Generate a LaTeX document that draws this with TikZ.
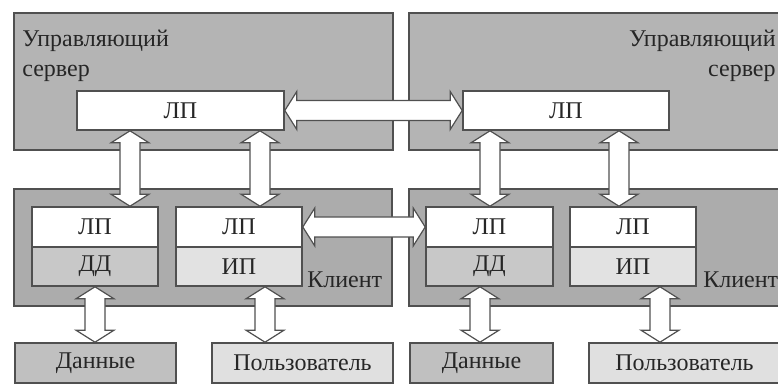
\documentclass[tikz,border=0pt]{standalone}
\usepackage{fontspec}
\setmainfont{Liberation Serif}
\usetikzlibrary{calc}

\definecolor{panelgray}{RGB}{180,180,180}
\definecolor{clientgray}{RGB}{172,172,172}
\definecolor{ddgray}{RGB}{200,200,200}
\definecolor{ipgray}{RGB}{226,226,226}
\definecolor{datagray}{RGB}{192,192,192}
\definecolor{usergray}{RGB}{224,224,224}
\definecolor{edgegray}{RGB}{80,80,80}

\begin{document}
\begin{tikzpicture}[x=0.5pt, y=-0.5pt,
		every node/.style={font=\fontsize{12}{15}\selectfont, text=black!85},
		panel/.style={shape=rectangle, draw=edgegray, line width=0.8pt, inner sep=0pt},
		dblarrow/.style={draw=edgegray, fill=white, line width=0.6pt, to path={
				let \p1=(\tikztostart), \p2=(\tikztotarget),
				\n1={atan2(\y2-\y1,\x2-\x1)}, \n2={veclen(\x2-\x1,\y2-\y1)} in
				{[shift={(\p1)}, rotate=\n1]
					(0pt,0pt) -- (6pt,9.5pt) -- (6pt,5pt) -- (\n2-6pt,5pt) -- (\n2-6pt,9.5pt) -- (\n2,0pt)
					-- (\n2-6pt,-9.5pt) -- (\n2-6pt,-5pt) -- (6pt,-5pt) -- (6pt,-9.5pt) -- cycle}}}]
				\useasboundingbox (0,0) rectangle (778,385);
				% Panels:
				\node[panel, fill=panelgray, minimum width=189.5pt, minimum height=68.5pt] (srvL) at (203.5, 81.5){};
				\node[panel, fill=panelgray, minimum width=195.5pt, minimum height=68.5pt] (srvR) at (604.5, 81.5){};
				\node[panel, fill=clientgray, minimum width=189pt, minimum height=58.5pt] (cliL) at (203, 247.5){};
				\node[panel, fill=clientgray, minimum width=195.5pt, minimum height=58.5pt] (cliR) at (604.5, 247.5){};
				\node[anchor=north west, align=left, inner sep=0pt] (srvtxtL) at (22, 30){Управляющий\\сервер};
				\node[anchor=north east, align=right, inner sep=0pt] (srvtxtR) at (776, 30){Управляющий\\сервер};
				\node[anchor=base west, inner sep=0pt] (clitxtL) at (307, 288){Клиент};
				\node[anchor=base west, inner sep=0pt] (clitxtR) at (703, 288){Клиент};
				% Boxes:
				\node[panel, fill=white, minimum width=103.5pt, minimum height=19.5pt] (srvlpL) at (180.5, 110.5){ЛП};
				\node[panel, fill=white, minimum width=103pt, minimum height=19.5pt] (srvlpR) at (566, 110.5){ЛП};
				\node[panel, fill=white, minimum width=63pt, minimum height=20pt] (lpA) at (95, 227){ЛП};
				\node[panel, fill=ddgray, minimum width=63pt, minimum height=19.5pt] (ddA) at (95, 266.5){ДД};
				\node[panel, fill=white, minimum width=63pt, minimum height=20pt] (lpB) at (239, 227){ЛП};
				\node[panel, fill=ipgray, minimum width=63pt, minimum height=19.5pt] (ipB) at (239, 266.5){ИП};
				\node[panel, fill=white, minimum width=63.5pt, minimum height=20pt] (lpC) at (489.5, 227){ЛП};
				\node[panel, fill=ddgray, minimum width=63.5pt, minimum height=19.5pt] (ddC) at (489.5, 266.5){ДД};
				\node[panel, fill=white, minimum width=63pt, minimum height=20pt] (lpD) at (633, 227){ЛП};
				\node[panel, fill=ipgray, minimum width=63pt, minimum height=19.5pt] (ipD) at (633, 266.5){ИП};
				\node[panel, fill=datagray, minimum width=80.5pt, minimum height=20pt] (datL) at (95.5, 363){Данные};
				\node[panel, fill=usergray, minimum width=90.5pt, minimum height=20pt] (usrL) at (302.5, 363){Пользователь};
				\node[panel, fill=datagray, minimum width=71.5pt, minimum height=20pt] (datR) at (481.5, 363){Данные};
				\node[panel, fill=usergray, minimum width=95.5pt, minimum height=20pt] (usrR) at (684.5, 363){Пользователь};
				% Arrows:
				\draw[dblarrow] (srvlpL.east) to (srvlpR.west);
				\draw[dblarrow] (lpB.east) to (lpC.west);
				\draw[dblarrow] ([xshift=-25.25pt]srvlpL.south) to ([xshift=-25.25pt]srvlpL.south |- lpA.north);
				\draw[dblarrow] ([xshift=39.75pt]srvlpL.south) to ([xshift=39.75pt]srvlpL.south |- lpB.north);
				\draw[dblarrow] ([xshift=-38pt]srvlpR.south) to ([xshift=-38pt]srvlpR.south |- lpC.north);
				\draw[dblarrow] ([xshift=26.5pt]srvlpR.south) to ([xshift=26.5pt]srvlpR.south |- lpD.north);
				\draw[dblarrow] (ddA.south) to (ddA.south |- datL.north);
				\draw[dblarrow] ([xshift=13pt]ipB.south) to ([xshift=13pt]ipB.south |- usrL.north);
				\draw[dblarrow] ([xshift=-4.75pt]ddC.south) to ([xshift=-4.75pt]ddC.south |- datR.north);
				\draw[dblarrow] ([xshift=13.5pt]ipD.south) to ([xshift=13.5pt]ipD.south |- usrR.north);
			\end{tikzpicture}
\end{document}
